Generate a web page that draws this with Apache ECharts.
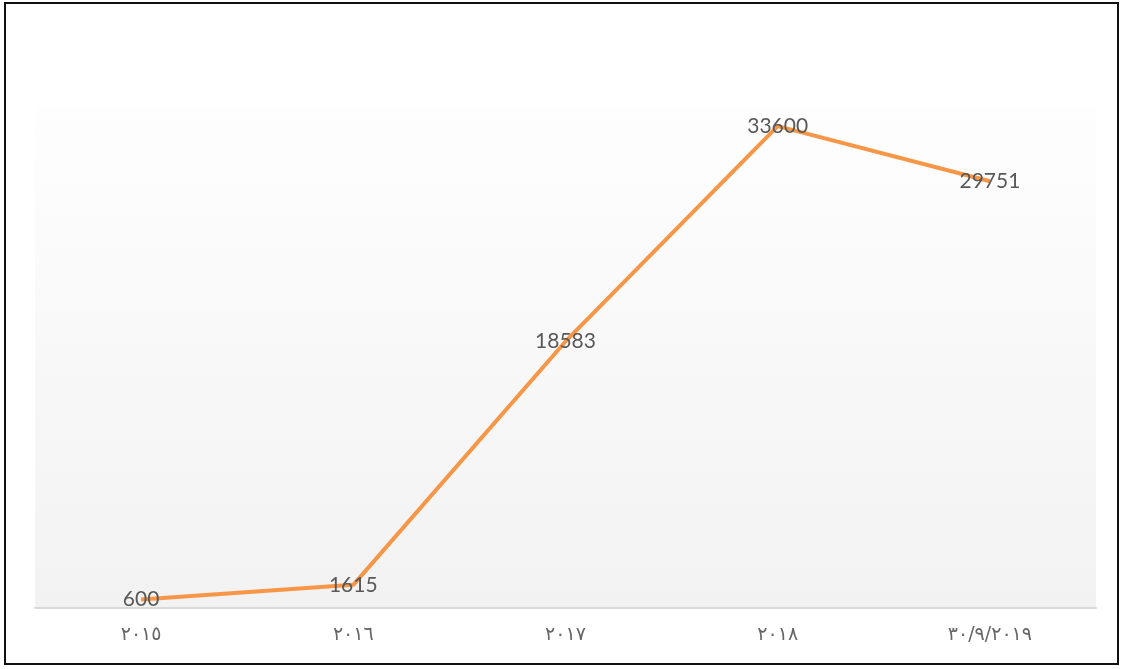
<!DOCTYPE html>
<html>
<head>
<meta charset="utf-8">
<script src="https://cdn.jsdelivr.net/npm/echarts@6/dist/echarts.min.js"></script>
<style>
html,body{margin:0;padding:0;background:#fff;}
#c{width:1121px;height:669px;}
</style>
</head>
<body>
<div id="c"></div>
<script>
const categories = ['٢٠١٥', '٢٠١٦', '٢٠١٧', '٢٠١٨', '٣٠/٩/٢٠١٩'];
const values = [600, 1615, 18583, 33600, 29751];

const chart = echarts.init(document.getElementById('c'));
chart.setOption({
  animation: false,
  backgroundColor: '#ffffff',
  graphic: [{
    type: 'rect',
    shape: { x: 5, y: 3, width: 1113, height: 661 },
    style: { fill: 'none', stroke: '#111', lineWidth: 2 },
    z: 100
  }],
  grid: {
    left: 35, right: 25, top: 106, bottom: 61,
    show: true,
    borderWidth: 0,
    backgroundColor: {
      type: 'linear', x: 0, y: 0, x2: 0, y2: 1,
      colorStops: [{ offset: 0, color: '#fefefe' }, { offset: 1, color: '#f2f2f2' }]
    }
  },
  xAxis: {
    type: 'category',
    data: categories,
    boundaryGap: true,
    axisLine: { lineStyle: { color: '#d9d9d9', width: 2 } },
    axisTick: { show: false },
    axisLabel: { color: '#666666', fontSize: 19, margin: 18, fontFamily: 'DejaVu Sans' }
  },
  yAxis: {
    type: 'value',
    min: 0, max: 35000,
    show: false,
    splitLine: { show: false }
  },
  series: [{
    type: 'line',
    data: values,
    symbol: 'circle',
    symbolSize: 1,
    showSymbol: true,
    itemStyle: { color: 'rgba(0,0,0,0)' },
    lineStyle: { color: '#f79646', width: 4 },
    label: {
      show: true,
      position: 'inside',
      color: '#595959',
      fontSize: 21,
      fontFamily: 'Lato'
    },
    z: 3
  }]
});
</script>
</body>
</html>
